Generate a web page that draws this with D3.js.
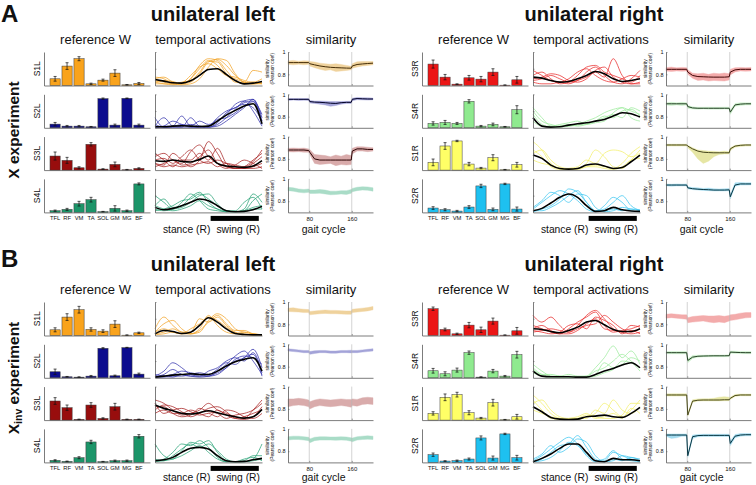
<!DOCTYPE html>
<html><head><meta charset="utf-8">
<script src="https://cdn.jsdelivr.net/npm/d3@7"></script>
<style>
body{margin:0;background:#fff}
svg{display:block}
text{font-family:"Liberation Sans",Arial,Helvetica,sans-serif;fill:#111}
</style>
</head><body>
<svg id="c" width="756" height="485"></svg>
<script>
// ---------------- DATA ----------------
const muscles = ["TFL","RF","VM","TA","SOL","GM","MG","BF"];
const panelLetters = ["A","B"];
const sideTitles = ["unilateral left","unilateral right"];
const columnTitles = ["reference W","temporal activations","similarity"];
const synLeft = ["S1L","S2L","S3L","S4L"];
const synRight = ["S3R","S4R","S1R","S2R"];
const actPhase = [0,8.33,16.67,25,33.33,41.67,50,58.33,66.67,75,83.33,91.67,100];
const swingRange = [52,97];
const simX = [40,50,60,70,79,81,90,100,110,120,130,140,150,159,161,170,180,190,200];
const simXTicks = [80,160];
const simYTicks = [0.8,1];

// Reference W (bar heights) and SD
const wAL = [[0.20,0.58,0.80,0.05,0.16,0.37,0.02,0.06],[0.11,0.05,0.05,0.03,0.87,0.08,0.88,0.08],[0.42,0.29,0.07,0.77,0.03,0.17,0.01,0.05],[0.05,0.09,0.26,0.38,0.02,0.12,0.05,0.85]];
const eAL = [[0.07,0.10,0.06,0.02,0.03,0.10,0.01,0.03],[0.05,0.02,0.02,0.01,0.02,0.03,0.01,0.03],[0.12,0.09,0.03,0.05,0.01,0.07,0.01,0.02],[0.02,0.03,0.07,0.07,0.01,0.08,0.02,0.03]];
const wAR = [[0.64,0.25,0.04,0.23,0.19,0.40,0.01,0.17],[0.13,0.16,0.13,0.79,0.05,0.10,0.03,0.54],[0.23,0.72,0.87,0.18,0.06,0.37,0.01,0.16],[0.13,0.08,0.04,0.16,0.79,0.09,0.85,0.10]];
const eAR = [[0.12,0.08,0.01,0.07,0.08,0.10,0.01,0.10],[0.05,0.06,0.03,0.05,0.02,0.04,0.01,0.12],[0.10,0.10,0.02,0.05,0.02,0.09,0.01,0.07],[0.04,0.03,0.02,0.04,0.05,0.04,0.02,0.06]];
const wBL = [[0.17,0.55,0.77,0.18,0.13,0.34,0.01,0.08],[0.18,0.03,0.02,0.05,0.88,0.06,0.90,0.11],[0.57,0.37,0.02,0.45,0.05,0.40,0.02,0.02],[0.06,0.03,0.14,0.61,0.02,0.05,0.05,0.78]];
const eBL = [[0.06,0.10,0.10,0.05,0.04,0.10,0.01,0.02],[0.08,0.01,0.01,0.02,0.02,0.02,0.01,0.03],[0.10,0.08,0.01,0.07,0.02,0.10,0.01,0.01],[0.02,0.01,0.03,0.05,0.01,0.02,0.02,0.05]];
const wBR = [[0.80,0.18,0.05,0.31,0.17,0.43,0.01,0.14],[0.21,0.12,0.23,0.75,0.02,0.20,0.05,0.69],[0.20,0.68,0.76,0.22,0.06,0.52,0.01,0.10],[0.23,0.04,0.05,0.10,0.73,0.13,0.85,0.14]];
const eBR = [[0.05,0.04,0.02,0.08,0.08,0.09,0.01,0.10],[0.07,0.06,0.06,0.05,0.01,0.05,0.02,0.10],[0.05,0.10,0.07,0.06,0.02,0.10,0.01,0.07],[0.05,0.01,0.02,0.03,0.06,0.06,0.02,0.07]];

// Temporal activations: mean (black) and individual subjects (thin)
const actMeanAL = [
 [0.18,0.13,0.08,0.07,0.14,0.30,0.48,0.50,0.33,0.15,0.05,0.07,0.12],
 [0.03,0.03,0.05,0.06,0.05,0.04,0.05,0.20,0.38,0.52,0.65,0.72,0.12],
 [0.28,0.26,0.30,0.26,0.24,0.32,0.42,0.20,0.12,0.10,0.08,0.12,0.28],
 [0.15,0.08,0.12,0.20,0.30,0.40,0.35,0.20,0.05,0.02,0.03,0.08,0.18]];
const actThinAL = [
 [[0.10,0.15,0.12,0.05,0.20,0.60,0.80,0.75,0.45,0.15,0.05,0.05,0.10],[0.20,0.25,0.10,0.05,0.10,0.35,0.70,0.78,0.60,0.30,0.10,0.05,0.05],[0.15,0.10,0.05,0.08,0.30,0.55,0.65,0.50,0.30,0.25,0.15,0.10,0.20],[0.05,0.05,0.05,0.10,0.15,0.40,0.72,0.70,0.35,0.10,0.08,0.10,0.05],[0.25,0.20,0.05,0.02,0.05,0.20,0.55,0.80,0.75,0.35,0.10,0.45,0.40],[0.10,0.05,0.02,0.05,0.20,0.50,0.75,0.60,0.30,0.20,0.10,0.05,0.08]],
 [[0.30,0.02,0.05,0.35,0.05,0.03,0.02,0.10,0.30,0.55,0.80,0.85,0.30],[0.05,0.30,0.05,0.02,0.30,0.05,0.02,0.15,0.45,0.60,0.70,0.60,0.20],[0.00,0.05,0.20,0.10,0.02,0.02,0.05,0.30,0.50,0.60,0.75,0.80,0.10],[0.10,0.02,0.02,0.05,0.10,0.05,0.02,0.05,0.20,0.40,0.60,0.85,0.20],[0.02,0.05,0.05,0.10,0.05,0.20,0.10,0.20,0.40,0.70,0.80,0.50,0.05],[0.05,0.02,0.02,0.02,0.02,0.02,0.05,0.25,0.30,0.45,0.65,0.78,0.40]],
 [[0.40,0.50,0.30,0.20,0.55,0.75,0.40,0.20,0.10,0.05,0.10,0.30,0.50],[0.20,0.15,0.50,0.30,0.10,0.30,0.85,0.50,0.10,0.05,0.05,0.10,0.20],[0.30,0.35,0.20,0.40,0.60,0.30,0.20,0.30,0.20,0.10,0.05,0.05,0.10],[0.10,0.20,0.30,0.15,0.20,0.40,0.60,0.20,0.05,0.15,0.30,0.20,0.05],[0.50,0.30,0.10,0.30,0.30,0.50,0.30,0.65,0.20,0.05,0.05,0.20,0.40],[0.20,0.10,0.15,0.10,0.15,0.20,0.25,0.10,0.20,0.15,0.10,0.25,0.60]],
 [[0.20,0.40,0.15,0.20,0.45,0.60,0.30,0.10,0.02,0.02,0.05,0.35,0.55],[0.50,0.30,0.10,0.30,0.55,0.35,0.10,0.05,0.02,0.02,0.10,0.55,0.30],[0.05,0.10,0.20,0.35,0.40,0.55,0.40,0.20,0.05,0.02,0.05,0.15,0.20],[0.10,0.05,0.10,0.15,0.30,0.50,0.55,0.25,0.05,0.02,0.02,0.10,0.10],[0.20,0.10,0.05,0.10,0.20,0.35,0.20,0.10,0.05,0.05,0.30,0.45,0.10]]];
const actMeanAR = [
 [0.25,0.22,0.15,0.10,0.12,0.20,0.30,0.42,0.35,0.20,0.12,0.15,0.20],
 [0.30,0.05,0.02,0.03,0.08,0.12,0.15,0.20,0.25,0.35,0.45,0.42,0.32],
 [0.45,0.35,0.15,0.05,0.03,0.05,0.15,0.18,0.12,0.05,0.08,0.25,0.45],
 [0.05,0.12,0.28,0.45,0.55,0.45,0.20,0.03,0.05,0.15,0.08,0.04,0.03]];
const actThinAR = [
 [[0.30,0.40,0.20,0.05,0.10,0.30,0.55,0.60,0.40,0.30,0.20,0.10,0.30],[0.15,0.20,0.30,0.20,0.10,0.15,0.40,0.55,0.30,0.10,0.05,0.20,0.45],[0.10,0.05,0.05,0.10,0.05,0.15,0.25,0.40,0.25,0.80,0.30,0.05,0.10],[0.45,0.30,0.15,0.10,0.20,0.40,0.50,0.30,0.15,0.10,0.20,0.30,0.25],[0.20,0.25,0.35,0.30,0.15,0.10,0.20,0.45,0.55,0.25,0.10,0.05,0.05]],
 [[0.60,0.30,0.05,0.02,0.05,0.10,0.20,0.30,0.45,0.55,0.60,0.50,0.40],[0.40,0.10,0.02,0.05,0.10,0.05,0.10,0.20,0.30,0.40,0.30,0.60,0.50],[0.20,0.05,0.05,0.10,0.15,0.20,0.10,0.15,0.20,0.45,0.60,0.30,0.20],[0.50,0.20,0.10,0.05,0.05,0.08,0.12,0.20,0.35,0.30,0.50,0.55,0.35]],
 [[0.85,0.60,0.20,0.05,0.02,0.05,0.20,0.60,0.40,0.10,0.05,0.30,0.60],[0.60,0.40,0.10,0.02,0.05,0.10,0.30,0.20,0.50,0.60,0.55,0.40,0.50],[0.30,0.20,0.15,0.05,0.02,0.02,0.10,0.15,0.10,0.05,0.20,0.50,0.70],[0.50,0.60,0.30,0.10,0.05,0.05,0.10,0.10,0.05,0.02,0.10,0.30,0.35]],
 [[0.10,0.30,0.50,0.65,0.55,0.35,0.10,0.02,0.20,0.45,0.30,0.05,0.02],[0.02,0.10,0.20,0.40,0.70,0.60,0.30,0.05,0.10,0.30,0.50,0.20,0.05],[0.15,0.35,0.60,0.50,0.30,0.55,0.50,0.15,0.02,0.05,0.15,0.10,0.05],[0.05,0.05,0.15,0.30,0.50,0.65,0.30,0.05,0.05,0.10,0.05,0.10,0.08]]];
const actMeanBL = [
 [0.05,0.15,0.12,0.06,0.10,0.30,0.53,0.40,0.20,0.06,0.03,0.02,0.02],
 [0.02,0.05,0.08,0.10,0.12,0.10,0.10,0.20,0.35,0.48,0.55,0.60,0.20],
 [0.45,0.35,0.28,0.20,0.18,0.22,0.28,0.22,0.15,0.10,0.06,0.10,0.32],
 [0.05,0.08,0.15,0.30,0.42,0.45,0.40,0.20,0.05,0.02,0.03,0.08,0.12]];
const actThinBL = [
 [[0.20,0.55,0.30,0.10,0.05,0.10,0.45,0.65,0.50,0.20,0.10,0.05,0.02],[0.10,0.35,0.45,0.20,0.05,0.20,0.60,0.30,0.10,0.05,0.10,0.05,0.02],[0.05,0.10,0.20,0.10,0.10,0.50,0.40,0.55,0.30,0.10,0.05,0.02,0.02],[0.02,0.05,0.10,0.05,0.20,0.35,0.55,0.45,0.25,0.08,0.02,0.02,0.02],[0.10,0.20,0.10,0.05,0.05,0.15,0.40,0.60,0.35,0.15,0.15,0.05,0.02]],
 [[0.05,0.20,0.45,0.30,0.10,0.05,0.05,0.20,0.40,0.65,0.80,0.50,0.10],[0.02,0.05,0.10,0.20,0.15,0.10,0.05,0.10,0.30,0.50,0.60,0.85,0.30],[0.02,0.02,0.05,0.05,0.10,0.15,0.10,0.25,0.45,0.40,0.60,0.70,0.05],[0.10,0.05,0.02,0.10,0.05,0.02,0.05,0.15,0.30,0.55,0.65,0.60,0.40],[0.02,0.10,0.25,0.10,0.05,0.05,0.20,0.30,0.50,0.60,0.50,0.75,0.15]],
 [[0.60,0.50,0.30,0.15,0.20,0.30,0.50,0.30,0.20,0.10,0.05,0.30,0.60],[0.30,0.45,0.40,0.25,0.10,0.20,0.35,0.40,0.25,0.05,0.02,0.10,0.40],[0.50,0.20,0.30,0.35,0.25,0.15,0.20,0.10,0.30,0.25,0.10,0.05,0.20],[0.40,0.40,0.20,0.10,0.15,0.35,0.25,0.20,0.05,0.15,0.20,0.30,0.50],[0.20,0.30,0.20,0.20,0.30,0.20,0.10,0.30,0.15,0.05,0.10,0.20,0.30]],
 [[0.55,0.20,0.10,0.35,0.60,0.55,0.65,0.30,0.05,0.02,0.02,0.10,0.55],[0.05,0.10,0.30,0.55,0.50,0.65,0.45,0.15,0.02,0.02,0.05,0.20,0.20],[0.10,0.05,0.20,0.40,0.55,0.45,0.55,0.35,0.10,0.02,0.02,0.05,0.10],[0.02,0.05,0.10,0.20,0.35,0.50,0.30,0.10,0.02,0.02,0.10,0.15,0.05]]];
const actMeanBR = [
 [0.20,0.18,0.12,0.08,0.15,0.25,0.40,0.45,0.32,0.18,0.12,0.12,0.20],
 [0.20,0.05,0.03,0.03,0.03,0.02,0.02,0.10,0.20,0.28,0.38,0.45,0.30],
 [0.40,0.25,0.08,0.03,0.02,0.03,0.10,0.12,0.15,0.10,0.08,0.20,0.38],
 [0.02,0.12,0.25,0.42,0.55,0.55,0.30,0.05,0.02,0.12,0.08,0.08,0.05]];
const actThinBR = [
 [[0.60,0.40,0.55,0.30,0.10,0.30,0.60,0.75,0.50,0.20,0.10,0.05,0.10],[0.30,0.20,0.10,0.05,0.20,0.40,0.55,0.70,0.30,0.10,0.15,0.20,0.30],[0.10,0.15,0.20,0.15,0.10,0.20,0.30,0.35,0.60,0.40,0.20,0.10,0.20],[0.20,0.30,0.15,0.05,0.05,0.15,0.35,0.50,0.20,0.15,0.10,0.30,0.25],[0.15,0.10,0.05,0.10,0.30,0.35,0.20,0.55,0.45,0.30,0.05,0.15,0.05]],
 [[0.40,0.20,0.05,0.02,0.02,0.02,0.05,0.30,0.60,0.95,0.60,0.80,0.40],[0.30,0.10,0.05,0.05,0.10,0.05,0.05,0.20,0.30,0.50,0.70,0.50,0.30],[0.15,0.05,0.02,0.02,0.05,0.02,0.02,0.10,0.45,0.30,0.40,0.60,0.50],[0.25,0.10,0.10,0.05,0.02,0.02,0.02,0.05,0.15,0.25,0.50,0.45,0.20]],
 [[0.75,0.50,0.20,0.05,0.02,0.02,0.10,0.20,0.50,0.30,0.10,0.30,0.60],[0.50,0.60,0.30,0.10,0.05,0.05,0.05,0.30,0.20,0.60,0.30,0.20,0.40],[0.30,0.20,0.10,0.05,0.02,0.05,0.15,0.10,0.05,0.05,0.15,0.50,0.50],[0.60,0.30,0.05,0.02,0.05,0.10,0.20,0.05,0.10,0.20,0.05,0.35,0.20]],
 [[0.05,0.20,0.40,0.60,0.75,0.55,0.20,0.02,0.05,0.30,0.20,0.10,0.05],[0.02,0.10,0.30,0.50,0.55,0.80,0.45,0.10,0.02,0.05,0.20,0.15,0.10],[0.10,0.25,0.50,0.30,0.45,0.70,0.60,0.20,0.02,0.10,0.05,0.15,0.05],[0.02,0.05,0.15,0.35,0.60,0.50,0.25,0.05,0.10,0.35,0.10,0.05,0.02]]];

// Similarity (Pearson coef): mean line (null = not drawn), lower and upper band
const simMeanAL = [
 [0.905,0.905,0.905,0.905,0.905,0.895,0.885,0.875,0.868,0.863,0.86,0.858,0.856,0.855,0.875,0.888,0.893,0.897,0.9],
 [0.955,0.955,0.955,0.955,0.955,0.935,0.93,0.928,0.925,0.92,0.918,0.925,0.928,0.928,0.955,0.962,0.96,0.958,0.958],
 [0.88,0.88,0.88,0.88,0.875,0.86,0.8,0.79,0.79,0.79,0.79,0.79,0.79,0.79,0.87,0.89,0.89,0.885,0.885],
 null];
const simLoAL = [
 [0.89,0.885,0.89,0.885,0.89,0.875,0.86,0.845,0.835,0.84,0.825,0.83,0.835,0.84,0.855,0.865,0.875,0.88,0.885],
 [0.945,0.948,0.945,0.947,0.945,0.922,0.918,0.912,0.905,0.892,0.9,0.912,0.918,0.918,0.942,0.952,0.95,0.948,0.95],
 [0.865,0.862,0.865,0.86,0.86,0.84,0.76,0.75,0.755,0.76,0.74,0.75,0.745,0.75,0.845,0.87,0.87,0.865,0.87],
 [0.895,0.89,0.88,0.875,0.88,0.87,0.87,0.872,0.865,0.858,0.86,0.865,0.86,0.872,0.885,0.895,0.9,0.898,0.89]];
const simHiAL = [
 [0.92,0.925,0.918,0.922,0.92,0.915,0.91,0.9,0.895,0.89,0.895,0.888,0.88,0.872,0.895,0.912,0.915,0.915,0.915],
 [0.963,0.962,0.963,0.962,0.963,0.945,0.94,0.94,0.938,0.935,0.935,0.935,0.937,0.937,0.965,0.972,0.97,0.968,0.966],
 [0.895,0.898,0.895,0.897,0.89,0.885,0.84,0.835,0.83,0.82,0.835,0.825,0.84,0.83,0.895,0.91,0.91,0.905,0.9],
 [0.925,0.92,0.91,0.905,0.91,0.9,0.9,0.905,0.9,0.89,0.89,0.895,0.895,0.905,0.915,0.925,0.93,0.928,0.92]];
const simMeanAR = [
 [0.845,0.845,0.845,0.845,0.845,0.82,0.79,0.78,0.778,0.776,0.775,0.775,0.775,0.778,0.82,0.84,0.845,0.845,0.845],
 [0.915,0.915,0.915,0.915,0.915,0.89,0.878,0.875,0.875,0.875,0.875,0.875,0.875,0.875,0.84,0.905,0.912,0.915,0.915],
 [0.925,0.925,0.925,0.925,0.925,0.915,0.89,0.87,0.86,0.857,0.855,0.855,0.855,0.855,0.89,0.915,0.922,0.925,0.925],
 [0.945,0.945,0.945,0.945,0.945,0.92,0.912,0.908,0.905,0.903,0.9,0.9,0.9,0.902,0.84,0.945,0.955,0.955,0.955]];
const simLoAR = [
 [0.83,0.825,0.83,0.828,0.83,0.8,0.765,0.745,0.75,0.74,0.745,0.742,0.74,0.75,0.795,0.822,0.83,0.828,0.83],
 [0.905,0.9,0.905,0.9,0.905,0.875,0.868,0.866,0.868,0.866,0.867,0.866,0.868,0.866,0.82,0.892,0.9,0.905,0.905],
 [0.915,0.915,0.915,0.915,0.915,0.9,0.86,0.8,0.76,0.78,0.82,0.84,0.845,0.845,0.875,0.905,0.912,0.915,0.915],
 [0.937,0.935,0.937,0.936,0.937,0.91,0.904,0.9,0.897,0.895,0.892,0.892,0.892,0.894,0.82,0.935,0.945,0.945,0.946]];
const simHiAR = [
 [0.86,0.865,0.858,0.862,0.86,0.84,0.81,0.805,0.81,0.8,0.81,0.805,0.812,0.805,0.845,0.86,0.862,0.86,0.862],
 [0.925,0.928,0.925,0.928,0.925,0.9,0.888,0.884,0.884,0.885,0.884,0.884,0.885,0.884,0.86,0.918,0.925,0.925,0.925],
 [0.932,0.932,0.932,0.932,0.932,0.922,0.9,0.88,0.875,0.87,0.868,0.865,0.87,0.865,0.9,0.922,0.928,0.93,0.93],
 [0.955,0.952,0.955,0.953,0.955,0.93,0.922,0.92,0.915,0.918,0.912,0.91,0.912,0.915,0.86,0.965,0.968,0.965,0.966]];
const simMeanBL = [null,null,null,null];
const simLoBL = [
 [0.915,0.912,0.91,0.905,0.905,0.885,0.89,0.895,0.898,0.895,0.895,0.892,0.89,0.89,0.905,0.91,0.915,0.92,0.93],
 [0.94,0.935,0.93,0.925,0.925,0.91,0.918,0.925,0.925,0.92,0.92,0.925,0.925,0.923,0.925,0.925,0.93,0.935,0.94],
 [0.82,0.83,0.835,0.83,0.82,0.8,0.82,0.83,0.825,0.82,0.825,0.83,0.825,0.815,0.83,0.825,0.84,0.845,0.84],
 [0.9,0.905,0.905,0.9,0.895,0.875,0.895,0.9,0.9,0.9,0.898,0.9,0.898,0.89,0.885,0.9,0.905,0.908,0.905]];
const simHiBL = [
 [0.945,0.948,0.94,0.935,0.932,0.915,0.92,0.925,0.928,0.925,0.925,0.922,0.92,0.92,0.935,0.94,0.945,0.95,0.96],
 [0.96,0.955,0.95,0.945,0.945,0.935,0.942,0.945,0.945,0.94,0.94,0.945,0.945,0.947,0.945,0.945,0.95,0.955,0.96],
 [0.89,0.89,0.895,0.89,0.88,0.865,0.88,0.89,0.885,0.88,0.885,0.89,0.885,0.885,0.89,0.885,0.9,0.905,0.9],
 [0.93,0.935,0.935,0.93,0.925,0.91,0.925,0.93,0.93,0.928,0.928,0.93,0.928,0.92,0.918,0.93,0.935,0.938,0.935]];
const simMeanBR = [
 null,
 [0.925,0.925,0.925,0.925,0.925,0.855,0.885,0.893,0.895,0.896,0.897,0.897,0.897,0.898,0.93,0.928,0.926,0.925,0.925],
 [0.925,0.925,0.925,0.925,0.925,0.745,0.87,0.878,0.88,0.88,0.88,0.88,0.882,0.882,0.895,0.92,0.925,0.925,0.925],
 [0.945,0.945,0.945,0.945,0.945,0.76,0.93,0.94,0.942,0.942,0.942,0.942,0.942,0.942,0.87,0.935,0.945,0.948,0.948]];
const simLoBR = [
 [0.855,0.86,0.855,0.85,0.845,0.815,0.82,0.825,0.83,0.82,0.815,0.82,0.815,0.83,0.835,0.84,0.85,0.858,0.862],
 [0.915,0.915,0.915,0.915,0.915,0.835,0.872,0.885,0.887,0.888,0.889,0.889,0.889,0.89,0.92,0.918,0.917,0.916,0.916],
 [0.915,0.915,0.915,0.915,0.915,0.735,0.86,0.87,0.872,0.872,0.872,0.872,0.874,0.874,0.885,0.912,0.917,0.917,0.917],
 [0.935,0.915,0.92,0.935,0.935,0.745,0.915,0.93,0.932,0.932,0.932,0.932,0.932,0.932,0.85,0.92,0.935,0.938,0.938]];
const simHiBR = [
 [0.89,0.895,0.89,0.885,0.885,0.86,0.87,0.875,0.878,0.875,0.875,0.878,0.872,0.88,0.885,0.89,0.9,0.905,0.905],
 [0.935,0.935,0.935,0.935,0.935,0.87,0.9,0.902,0.903,0.904,0.905,0.905,0.905,0.906,0.94,0.938,0.936,0.935,0.935],
 [0.935,0.935,0.935,0.935,0.935,0.76,0.882,0.89,0.892,0.892,0.895,0.905,0.91,0.905,0.905,0.93,0.933,0.933,0.933],
 [0.955,0.955,0.955,0.955,0.955,0.775,0.945,0.95,0.952,0.952,0.952,0.952,0.952,0.952,0.89,0.95,0.958,0.958,0.958]];

// ---------------- STYLE ----------------
const colLeft  = ["#f9a31c","#0c0c8e","#980d0d","#1c9569"];
const colRight = ["#ec1616","#8fea8f","#ffff66","#1ec0f0"];
const thinLeft  = ["#f2a52a","#3434ac","#a82222","#2ba478"];
const thinRight = ["#e82c2c","#9deb9d","#f3ef6c","#3cc6f0"];
const bandLeft  = ["#efd29c","#a3a3d8","#d9abab","#a9dcc7"];
const bandRight = ["#f3abab","#c9efc9","#e6e6a4","#a3dbef"];

const svg = d3.select("#c");

const blocks = [
  {dx:0,   dy:0,   letter:0, side:0, W:wAL, E:eAL, M:actMeanAL, T:actThinAL, SM:simMeanAL, SL:simLoAL, SH:simHiAL, syn:synLeft,  col:colLeft,  thin:thinLeft,  band:bandLeft},
  {dx:378, dy:0,   letter:0, side:1, W:wAR, E:eAR, M:actMeanAR, T:actThinAR, SM:simMeanAR, SL:simLoAR, SH:simHiAR, syn:synRight, col:colRight, thin:thinRight, band:bandRight},
  {dx:0,   dy:250, letter:1, side:0, W:wBL, E:eBL, M:actMeanBL, T:actThinBL, SM:simMeanBL, SL:simLoBL, SH:simHiBL, syn:synLeft,  col:colLeft,  thin:thinLeft,  band:bandLeft},
  {dx:378, dy:250, letter:1, side:1, W:wBR, E:eBR, M:actMeanBR, T:actThinBR, SM:simMeanBR, SL:simLoBR, SH:simHiBR, syn:synRight, col:colRight, thin:thinRight, band:bandRight}
];

const xBar = d3.scaleBand().domain(muscles).range([44,150]).paddingInner(0.15).paddingOuter(0.5);
const xAct = d3.scaleLinear().domain([0,100]).range([155,262]);
const xSim = d3.scaleLinear().domain([40,200]).range([288,373]);
const rowTop = i => 52 + i*42.3;
const rowH = 33.5;
const AX = "#5a5a5a";

function styleAxis(sel){
  sel.select(".domain").attr("stroke",AX).attr("stroke-width",0.8);
  sel.selectAll(".tick line").attr("stroke",AX).attr("stroke-width",0.6);
  sel.attr("font-family","Liberation Sans, Arial, sans-serif");
}

// panel letters and row titles
panelLetters.forEach((L,k)=>{
  svg.append("text").attr("x",1).attr("y",k===0?22:267)
    .attr("font-size",24).attr("font-weight","bold").text(L);
});
svg.append("text")
  .attr("transform","translate(19,130) rotate(-90)")
  .attr("text-anchor","middle").attr("font-size",15.5).attr("font-weight","bold")
  .text("X experiment");
const xinv = svg.append("text")
  .attr("transform","translate(19,378) rotate(-90)")
  .attr("text-anchor","middle").attr("font-size",15.5).attr("font-weight","bold");
xinv.append("tspan").text("X");
xinv.append("tspan").attr("font-size",10.5).attr("dy",3).text("inv");
xinv.append("tspan").attr("dy",-3).text(" experiment");

blocks.forEach(B=>{
  const g = svg.append("g").attr("transform",`translate(${B.dx},${B.dy})`);
  g.append("text").attr("x",B.side? 216:213).attr("y",21).attr("text-anchor","middle")
    .attr("font-size",20).attr("font-weight","bold").text(sideTitles[B.side]);
  const subX = [(xBar.range()[0]+xBar.range()[1])/2 - 1.5, 213, 331];
  columnTitles.forEach((t,k)=>{
    g.append("text").attr("x",subX[k]).attr("y",43.5).attr("text-anchor","middle")
      .attr("font-size",13).text(t);
  });

  for(let i=0;i<4;i++){
    const top = rowTop(i), bot = top + rowH;
    const y01 = d3.scaleLinear().domain([0,1]).range([bot,top]);
    const ySim = d3.scaleLinear().domain([0.7,1]).range([bot,top]);
    const last = i===3;

    // row label
    g.append("text").attr("transform",`translate(40,${(top+bot)/2}) rotate(-90)`)
      .attr("text-anchor","middle").attr("font-size",8.5).attr("fill","#222").text(B.syn[i]);

    // ---- bars
    const gb = g.append("g");
    gb.selectAll("rect").data(B.W[i]).join("rect")
      .attr("x",(d,j)=>xBar(muscles[j])).attr("width",xBar.bandwidth())
      .attr("y",d=>y01(d)).attr("height",d=>bot-y01(d))
      .attr("fill",B.col[i]).attr("stroke","#3a3a3a").attr("stroke-width",0.5);
    gb.selectAll("path.err").data(B.W[i]).join("path").attr("class","err")
      .attr("d",(d,j)=>{
        const cx = xBar(muscles[j]) + xBar.bandwidth()/2, e = B.E[i][j];
        const y1 = y01(d+e), y0 = y01(Math.max(0,d-e));
        return `M${cx},${y0}V${y1}M${cx-1.5},${y1}H${cx+1.5}M${cx-1.5},${y0}H${cx+1.5}`;
      })
      .attr("stroke","#111").attr("stroke-width",0.7).attr("fill","none");
    const axBL = g.append("g").attr("transform",`translate(${xBar.range()[0]},0)`)
      .call(d3.axisLeft(y01).tickValues([]).tickSizeOuter(0));
    styleAxis(axBL);
    const axBB = g.append("g").attr("transform",`translate(0,${bot})`)
      .call(d3.axisBottom(xBar).tickSize(0).tickSizeOuter(0).tickPadding(3).tickFormat(last? (d=>d) : (()=>"")));
    styleAxis(axBB);
    axBB.selectAll("text").attr("font-size",5.8).attr("fill","#444");

    // ---- temporal activations
    const gt = g.append("g");
    const line = d3.line().x((d,j)=>xAct(actPhase[j])).y(d=>y01(d)).curve(d3.curveMonotoneX);
    gt.selectAll("path.thin").data(B.T[i]).join("path").attr("class","thin")
      .attr("d",line).attr("fill","none").attr("stroke",B.thin[i])
      .attr("stroke-width",0.8).attr("stroke-opacity",0.95);
    gt.append("path").attr("d",line(B.M[i])).attr("fill","none")
      .attr("stroke","#000").attr("stroke-width",1.6);
    const axTL = g.append("g").attr("transform",`translate(${xAct.range()[0]},0)`)
      .call(d3.axisLeft(y01).tickValues([0.5,1]).tickSize(-1.5).tickFormat(()=>"").tickSizeOuter(0));
    styleAxis(axTL);
    const axTB = g.append("g").attr("transform",`translate(0,${bot})`)
      .call(d3.axisBottom(xAct).tickValues([]).tickSizeOuter(0));
    styleAxis(axTB);

    // ---- similarity
    const gs = g.append("g");
    const area = d3.area().x((d,j)=>xSim(simX[j])).y0((d,j)=>ySim(B.SL[i][j])).y1((d,j)=>ySim(B.SH[i][j]));
    gs.append("path").attr("d",area(simX)).attr("fill",B.band[i]).attr("stroke",B.band[i]).attr("stroke-width",0.4);
    gs.selectAll("line.v").data(simXTicks).join("line").attr("class","v")
      .attr("x1",d=>xSim(d)).attr("x2",d=>xSim(d)).attr("y1",top).attr("y2",bot)
      .attr("stroke","#b5b5b5").attr("stroke-width",0.7).attr("stroke-opacity",0.85);
    if(B.SM[i]){
      const sline = d3.line().x((d,j)=>xSim(simX[j])).y(d=>ySim(d));
      gs.append("path").attr("d",sline(B.SM[i])).attr("fill","none")
        .attr("stroke",d3.interpolateRgb(B.col[i],"#000")(0.72)).attr("stroke-width",1);
    }
    const axSL = g.append("g").attr("transform",`translate(${xSim.range()[0]},0)`)
      .call(d3.axisLeft(ySim).tickValues(simYTicks).tickSize(-1.5).tickPadding(2.5)
        .tickFormat(d=>d===1?"1":d3.format(".1f")(d)).tickSizeOuter(0));
    styleAxis(axSL);
    axSL.selectAll("text").attr("font-size",5.5).attr("fill","#444");
    const axSB = g.append("g").attr("transform",`translate(0,${bot})`)
      .call(d3.axisBottom(xSim).tickValues(simXTicks).tickSize(-1.5).tickPadding(4)
        .tickFormat(last? d3.format("d") : (()=>"")).tickSizeOuter(0));
    styleAxis(axSB);
    axSB.selectAll("text").attr("font-size",6).attr("fill","#444");

    // similarity y label
    const yl = g.append("text").attr("transform",`translate(272,${(top+bot)/2}) rotate(-90)`)
      .attr("text-anchor","middle").attr("font-size",4.8).attr("fill","#444");
    yl.append("tspan").attr("x",0).attr("dy",-3.2).text("similarity");
    yl.append("tspan").attr("x",0).attr("dy",5.6).text("(Pearson coef)");
  }

  // swing bar and bottom labels
  const yBarTop = rowTop(3) + rowH + 3.5;
  g.append("rect").attr("x",xAct(swingRange[0])).attr("width",xAct(swingRange[1])-xAct(swingRange[0]))
    .attr("y",yBarTop).attr("height",5).attr("fill","#000");
  const yLab = B.letter===0 ? 233 : 230.5;
  g.append("text").attr("x",xAct(swingRange[0])-24).attr("y",yLab).attr("text-anchor","middle")
    .attr("font-size",10.3).text("stance (R)");
  g.append("text").attr("x",(xAct(swingRange[0])+xAct(swingRange[1]))/2 + 3.5).attr("y",yLab).attr("text-anchor","middle")
    .attr("font-size",10.3).text("swing (R)");
  g.append("text").attr("x",xSim(107)).attr("y",yLab).attr("text-anchor","middle")
    .attr("font-size",10.5).text("gait cycle");
});
</script>
</body></html>
